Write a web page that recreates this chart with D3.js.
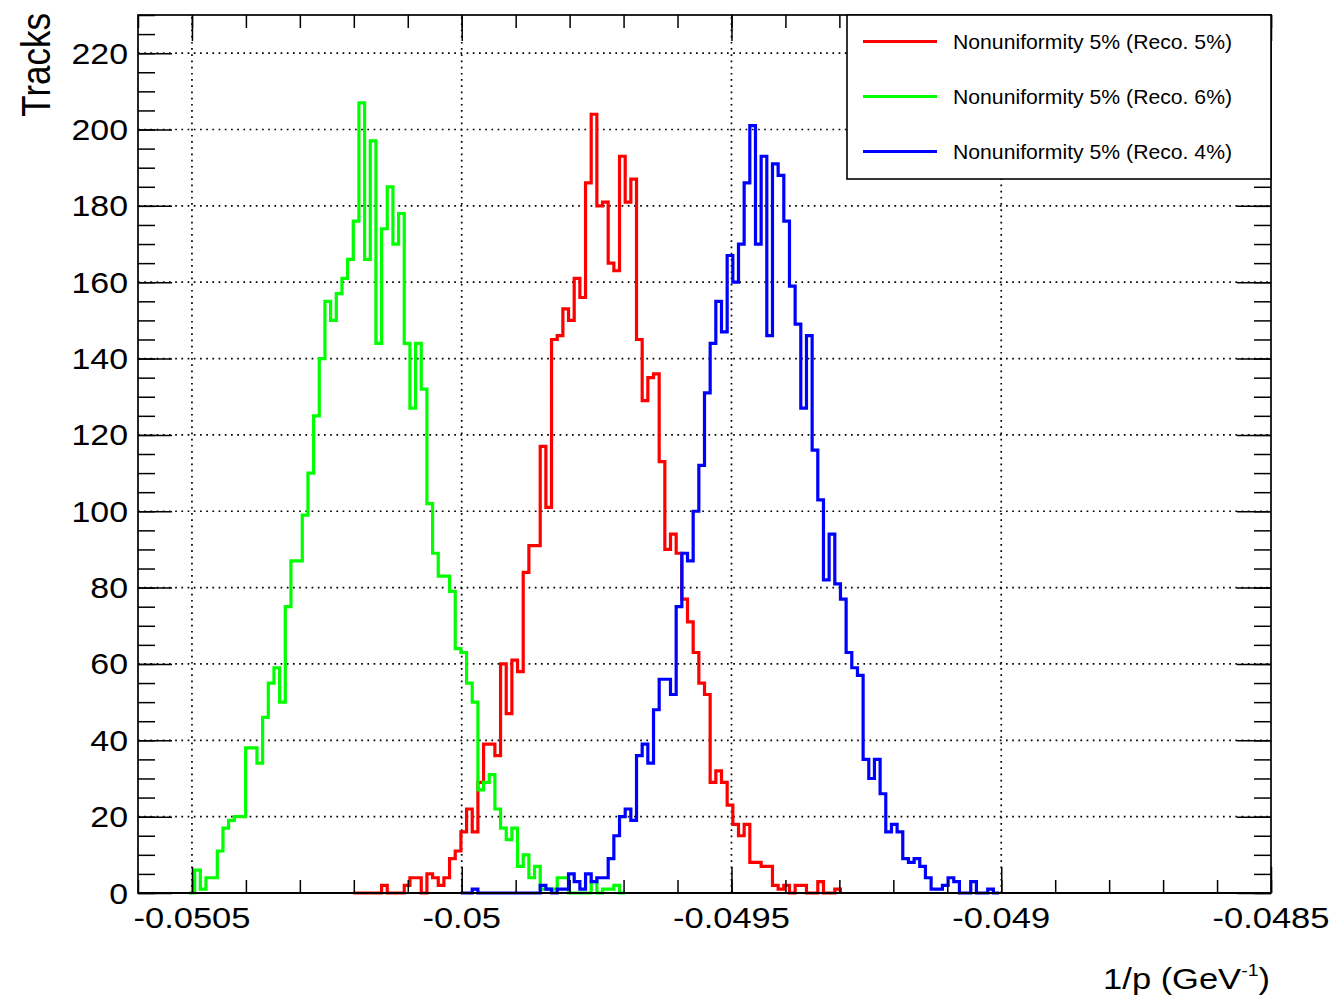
<!DOCTYPE html>
<html><head><meta charset="utf-8">
<script src="https://cdn.jsdelivr.net/npm/d3@7"></script>
<style>body{margin:0;background:#fff}svg{display:block}</style>
</head><body><svg id="c" width="1334" height="995"></svg>
<script>
// ---- data ----
const histLow = -0.0506;
const binWidth = 1.05e-5;
const xDomain = [-0.0506, -0.0485];
const yDomain = [0, 230];

const redFirstBin = 38;
const redCounts = [0,0,0,0,0,2,0,0,0,2,4,4,0,5,4,2,4,9,11,16,22,16,29,39,39,36,60,47,61,58,84,91,91,117,101,
  145,146,153,150,161,156,186,204,180,181,165,163,193,181,187,145,129,135,136,113,90,94,89,77,71,63,55,52,
  29,32,29,23,18,15,18,8,8,7,7,2,1,2,0,2,2,0,0,3,0,0,1];

const greenFirstBin = 9;
const greenCounts = [0,6,1,4,4,11,17,19,20,20,38,38,34,46,55,59,50,75,87,87,99,110,125,140,155,150,157,161,166,176,
  207,166,197,144,174,185,170,178,144,127,144,132,102,89,83,83,79,64,63,55,50,27,29,31,22,17,14,17,7,10,4,7,
  1,1,1,4,4,0,0,0,0,3,0,1,1,2,0];

const blueFirstBin = 57;
const blueCounts = [0,0,1,0,0,0,0,0,0,0,0,0,0,0,2,1,0,1,1,5,3,1,5,3,4,4,9,15,20,22,19,36,39,34,48,56,56,52,75,89,87,100,
  112,131,144,155,147,167,160,170,186,201,170,193,146,191,188,176,159,149,127,146,116,103,82,94,81,77,63,59,57,
  35,30,35,26,16,18,16,9,8,9,7,4,1,1,2,4,3,0,0,3,0,0,1,0];

const seriesNames = ["Nonuniformity 5% (Reco. 5%)", "Nonuniformity 5% (Reco. 6%)", "Nonuniformity 5% (Reco. 4%)"];
const seriesColors = ["#ff0000", "#00ff00", "#0000ff"];

const xTickValues = [-0.0505, -0.05, -0.0495, -0.049, -0.0485];
const xTickLabels = ["-0.0505", "-0.05", "-0.0495", "-0.049", "-0.0485"];
const yTickValues = [0, 20, 40, 60, 80, 100, 120, 140, 160, 180, 200, 220];
const yTickLabels = ["0", "20", "40", "60", "80", "100", "120", "140", "160", "180", "200", "220"];
const xTitle = "1/p (GeV";
const yTitle = "Tracks";

// ---- layout ----
const L = 138, R = 1271, T = 15, B = 893;
const SX = 1.15; // horizontal glyph stretch of the reference
const FONT = "'Liberation Sans', Arial, Helvetica, sans-serif";

const svg = d3.select("#c");
const x = d3.scaleLinear().domain(xDomain).range([L, R]);
const y = d3.scaleLinear().domain(yDomain).range([B, T]);

// grid
const grid = svg.append("g").attr("stroke", "#000").attr("stroke-width", 1.7).attr("stroke-dasharray", "1.7,4.5");
grid.selectAll("line.gx").data(xTickValues.filter(v => x(v) < R - 2)).enter().append("line")
  .attr("x1", d => x(d)).attr("x2", d => x(d)).attr("y1", B).attr("y2", T);
grid.selectAll("line.gy").data(yTickValues.filter(v => v > 0)).enter().append("line")
  .attr("x1", L).attr("x2", R).attr("y1", d => y(d)).attr("y2", d => y(d));

// histograms
function stepPath(first, counts) {
  const p = d3.path();
  const e = k => x(histLow + k * binWidth);
  p.moveTo(e(first), y(0));
  counts.forEach((c, i) => {
    p.lineTo(e(first + i), y(c));
    p.lineTo(e(first + i + 1), y(c));
  });
  p.lineTo(e(first + counts.length), y(0));
  return p.toString();
}
const hists = [[redFirstBin, redCounts], [greenFirstBin, greenCounts], [blueFirstBin, blueCounts]];
svg.append("g").selectAll("path").data(hists).enter().append("path")
  .attr("d", d => stepPath(d[0], d[1]))
  .attr("fill", "none")
  .attr("stroke", (d, i) => seriesColors[i])
  .attr("stroke-width", 3.2)
  .attr("stroke-linejoin", "miter");

// axes ticks (inside ticks, on all four sides)
const xMinor = d3.range(0, 22).map(i => -0.0506 + i * 0.0001);
const yMinor = d3.range(0, 47).map(i => i * 5);
function ax(gen, tr) {
  svg.append("g").attr("transform", tr).call(gen)
    .call(g => g.select(".domain").remove())
    .call(g => g.selectAll("line").attr("stroke", "#000").attr("stroke-width", 1.5));
}
ax(d3.axisBottom(x).tickValues(xMinor).tickSize(-13).tickFormat(""), `translate(0,${B})`);
ax(d3.axisBottom(x).tickValues(xTickValues).tickSize(-26).tickFormat(""), `translate(0,${B})`);
ax(d3.axisTop(x).tickValues(xMinor).tickSize(-13).tickFormat(""), `translate(0,${T})`);
ax(d3.axisTop(x).tickValues(xTickValues).tickSize(-26).tickFormat(""), `translate(0,${T})`);
ax(d3.axisLeft(y).tickValues(yMinor).tickSize(-17).tickFormat(""), `translate(${L},0)`);
ax(d3.axisLeft(y).tickValues(yTickValues).tickSize(-34).tickFormat(""), `translate(${L},0)`);
ax(d3.axisRight(y).tickValues(yMinor).tickSize(-17).tickFormat(""), `translate(${R},0)`);
ax(d3.axisRight(y).tickValues(yTickValues).tickSize(-34).tickFormat(""), `translate(${R},0)`);

// frame
svg.append("rect").attr("x", L).attr("y", T).attr("width", R - L).attr("height", B - T)
  .attr("fill", "none").attr("stroke", "#000").attr("stroke-width", 1.7);
svg.append("line").attr("x1", L).attr("x2", R).attr("y1", B).attr("y2", B)
  .attr("stroke", "#000").attr("stroke-width", 2.2);

// tick labels
svg.append("g").selectAll("text").data(xTickValues).enter().append("text")
  .attr("transform", d => `translate(${x(d)},928) scale(${SX},1)`)
  .attr("text-anchor", "middle").attr("font-family", FONT).attr("font-size", 30).attr("fill", "#000")
  .text((d, i) => xTickLabels[i]);
svg.append("g").selectAll("text").data(yTickValues).enter().append("text")
  .attr("transform", d => `translate(128,${y(d) + 10.5}) scale(${SX},1)`)
  .attr("text-anchor", "end").attr("font-family", FONT).attr("font-size", 29.5).attr("fill", "#000")
  .text((d, i) => yTickLabels[i]);

// axis titles
const xt = svg.append("text").attr("transform", `translate(1270,989) scale(${SX},1)`)
  .attr("text-anchor", "end").attr("font-family", FONT).attr("font-size", 30).attr("fill", "#000");
xt.append("tspan").text(xTitle);
xt.append("tspan").attr("font-size", 17).attr("dy", -13).text("-1");
xt.append("tspan").attr("font-size", 30).attr("dy", 13).text(")");

svg.append("text").attr("transform", `translate(50,13) scale(${SX},1) rotate(-90)`)
  .attr("text-anchor", "end").attr("font-family", FONT).attr("font-size", 35).attr("fill", "#000")
  .text(yTitle);

// legend
const lg = svg.append("g");
lg.append("rect").attr("x", 847).attr("y", T).attr("width", R - 847).attr("height", 164)
  .attr("fill", "#fff").attr("stroke", "#000").attr("stroke-width", 1.6);
const rowY = [41.5, 96.5, 151.5];
const rows = lg.selectAll("g.row").data(seriesNames).enter().append("g");
rows.append("line").attr("x1", 863).attr("x2", 937).attr("y1", (d, i) => rowY[i]).attr("y2", (d, i) => rowY[i])
  .attr("stroke", (d, i) => seriesColors[i]).attr("stroke-width", 3);
rows.append("text").attr("transform", (d, i) => `translate(953,${rowY[i] + 7.2}) scale(1.06,1)`)
  .attr("font-family", FONT).attr("font-size", 20).attr("fill", "#000").text(d => d);
</script></body></html>
